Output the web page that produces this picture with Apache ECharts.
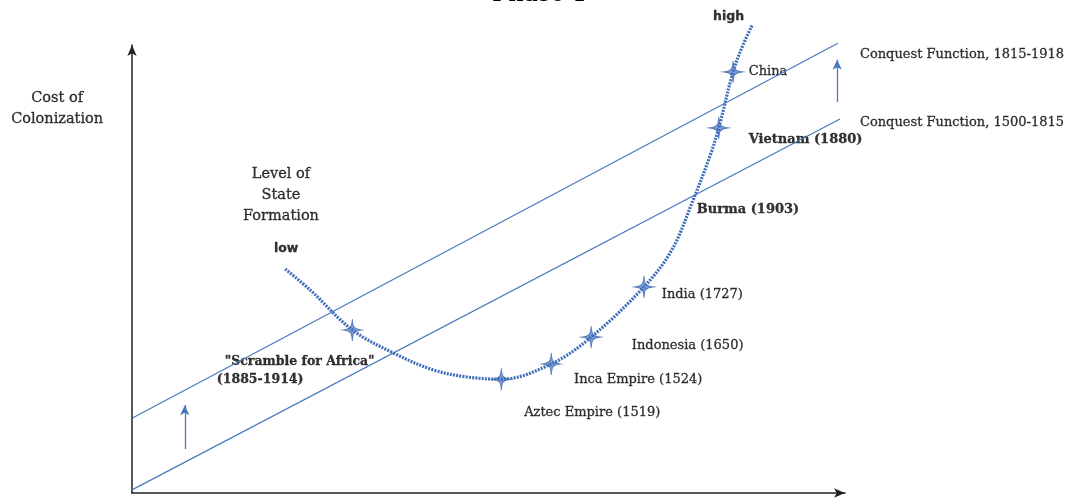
<!DOCTYPE html>
<html>
<head>
<meta charset="utf-8">
<script src="https://cdn.jsdelivr.net/npm/echarts@6/dist/echarts.min.js"></script>
<style>
html, body { margin: 0; padding: 0; background: #fff; }
#chart { width: 1082px; height: 498px; }
</style>
</head>
<body>
<div id="chart"></div>
<script>
// level of state formation curve (axis units 0-100)
let curveX = [21.5, 25.0, 30.9, 36.6, 42.2, 47.0, 51.8, 58.8, 64.4, 71.8, 75.7, 78.7, 81.1, 82.3, 84.3, 85.7, 87.0];
let curveY = [50.0, 45.3, 36.4, 31.3, 27.5, 25.9, 25.4, 28.8, 34.8, 46.0, 54.2, 65.4, 75.4, 81.5, 94.0, 100.0, 104.5];

// star markers on the curve
let starX = [30.9, 51.8, 58.8, 64.4, 71.8, 82.3, 84.3];
let starY = [36.4, 25.4, 28.8, 34.8, 46.0, 81.5, 94.0];

// conquest functions (start / end)
let conquest1500X = [0, 99.3];
let conquest1500Y = [0.7, 83.5];
let conquest1815X = [0, 99.0];
let conquest1815Y = [16.7, 100.4];

// shift arrows (from / to)
let shiftX = [7.4, 98.9];
let shiftFromY = [9.8, 87.3];
let shiftToY = [19.6, 96.7];

// annotations
let noteText = ['China', 'Vietnam (1880)', 'Burma (1903)', 'India (1727)', 'Indonesia (1650)',
    'Inca Empire (1524)', 'Aztec Empire (1519)', '"Scramble for Africa"', '(1885-1914)',
    'Conquest Function, 1815-1918', 'Conquest Function, 1500-1815', 'high', 'low',
    'Level of\nState\nFormation', 'Cost of\nColonization'];
let noteX = [86.5, 86.5, 79.2, 74.3, 70.1, 62.0, 55.0, 13.0, 11.9, 102.1, 102.1, 81.5, 19.9, 20.9, -10.5];
let noteY = [94.0, 78.8, 63.2, 44.2, 33.0, 25.2, 17.9, 29.2, 25.2, 97.8, 82.6, 106.3, 54.5, 66.5, 85.8];
let noteKind = ['serif', 'bold', 'bold', 'serif', 'serif', 'serif', 'serif', 'boldSmall', 'boldSmall',
    'serif', 'serif', 'sans', 'sans', 'center', 'center'];

let chart = echarts.init(document.getElementById('chart'));

let blue = '#4a78bf';

function labelFor(kind) {
    let base = {
        show: true,
        formatter: '{b}',
        color: '#000',
        textBorderColor: '#000',
        textBorderWidth: 0.3,
        fontFamily: 'DejaVu Serif',
        fontSize: 13,
        position: 'right',
        distance: 0
    };
    if (kind === 'bold' || kind === 'boldSmall') {
        base.fontWeight = 'bold';
        base.fontSize = kind === 'bold' ? 13 : 12.5;
    } else if (kind === 'sans') {
        base.fontFamily = 'DejaVu Sans';
        base.fontWeight = 'bold';
        base.fontSize = 12.5;
    } else if (kind === 'center') {
        base.position = 'inside';
        base.align = 'center';
        base.verticalAlign = 'middle';
        base.fontSize = 14.5;
        base.lineHeight = 21;
    }
    return base;
}

let noteData = noteText.map(function (t, i) {
    return { name: t, value: [noteX[i], noteY[i]], label: labelFor(noteKind[i]) };
});

let starPath = 'path://M0,-10 C0.6,-3 1,-1 9,0 C1,1 0.6,3 0,10 C-0.6,3 -1,1 -9,0 C-1,-1 -0.6,-3 0,-10 Z';

let option = {
    backgroundColor: '#fff',
    animation: false,
    title: {
        text: 'Phase 1',
        left: 487,
        top: -22,
        textStyle: { fontFamily: 'DejaVu Serif', fontWeight: 'normal', fontSize: 24, color: '#000' }
    },
    grid: { left: 132, right: 237, top: 45, bottom: 5 },
    xAxis: {
        type: 'value', min: 0, max: 100,
        axisLine: { show: true, symbol: ['none', 'arrow'], symbolSize: [7, 11], lineStyle: { color: '#222', width: 1.5 } },
        axisTick: { show: false }, axisLabel: { show: false }, splitLine: { show: false }
    },
    yAxis: {
        type: 'value', min: 0, max: 100,
        axisLine: { show: true, symbol: ['none', 'arrow'], symbolSize: [7, 11], lineStyle: { color: '#222', width: 1.5 } },
        axisTick: { show: false }, axisLabel: { show: false }, splitLine: { show: false }
    },
    series: [
        {
            type: 'line',
            clip: false,
            symbol: 'none',
            data: conquest1500X.map(function (x, i) { return [x, conquest1500Y[i]]; }),
            lineStyle: { color: blue, width: 1.2 }
        },
        {
            type: 'line',
            clip: false,
            symbol: 'none',
            data: conquest1815X.map(function (x, i) { return [x, conquest1815Y[i]]; }),
            lineStyle: { color: blue, width: 1.2 },
            markLine: {
                silent: true,
                symbol: ['none', 'arrow'],
                symbolSize: [7, 10],
                label: { show: false },
                lineStyle: { color: blue, width: 1.3, type: 'solid' },
                data: shiftX.map(function (x, i) {
                    return [{ coord: [x, shiftFromY[i]] }, { coord: [x, shiftToY[i]] }];
                })
            }
        },
        {
            type: 'line',
            clip: false,
            symbol: 'none',
            smooth: 0.35,
            data: curveX.map(function (x, i) { return [x, curveY[i]]; }),
            lineStyle: { color: '#3f6fba', width: 3.2, type: [2, 1.2] }
        },
        {
            type: 'scatter',
            clip: false,
            symbol: starPath,
            symbolSize: [18, 22],
            data: starX.map(function (x, i) { return [x, starY[i]]; }),
            itemStyle: { color: '#5a86c8', borderColor: '#3d68ad', borderWidth: 1 }
        },
        {
            type: 'scatter',
            clip: false,
            symbolSize: 0,
            data: noteData
        }
    ]
};

chart.setOption(option);
window.addEventListener('resize', function () { chart.resize(); });
</script>
</body>
</html>
